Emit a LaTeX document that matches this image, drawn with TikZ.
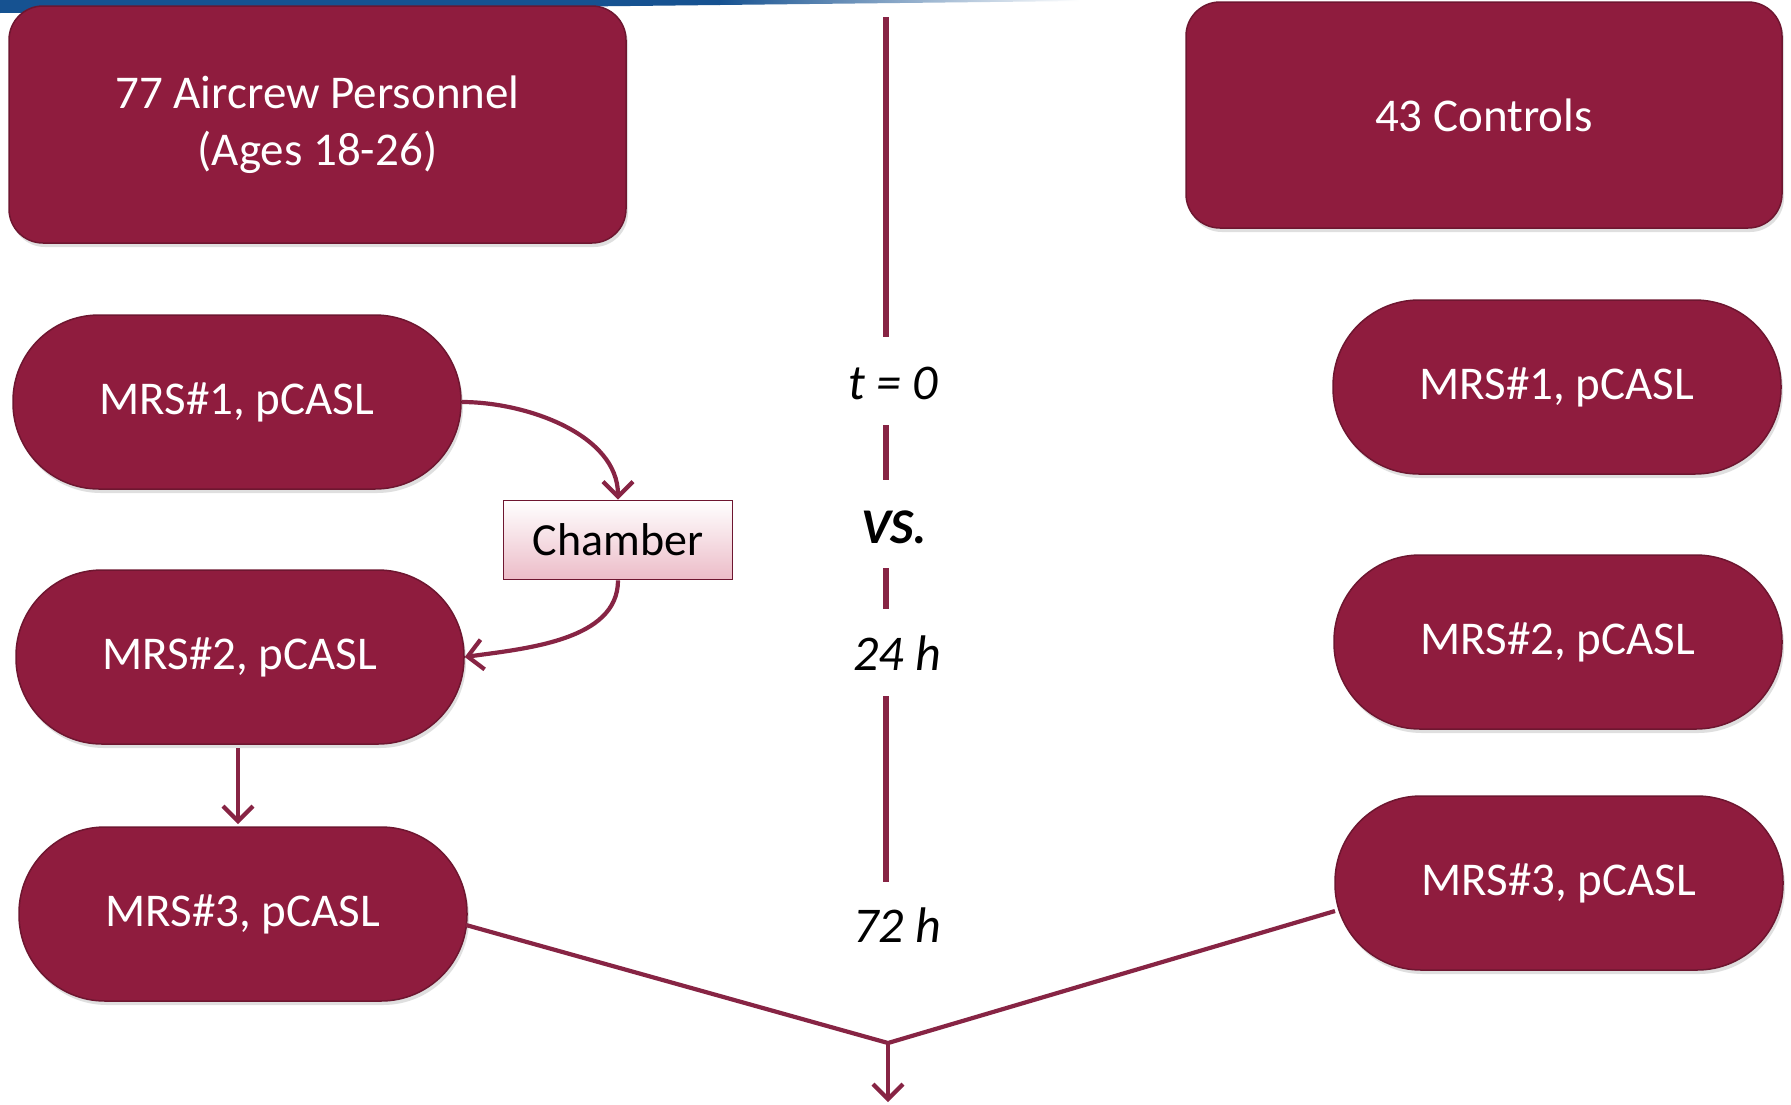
\documentclass[tikz,border=0pt]{standalone}
\usepackage{fontspec}
\setmainfont{Carlito}
\usetikzlibrary{arrows.meta,shadows}
\definecolor{boxred}{RGB}{143,28,62}
\definecolor{boxedge}{RGB}{110,22,48}
\definecolor{arrred}{RGB}{135,36,68}
\definecolor{chpink}{RGB}{236,188,200}
\definecolor{topblue}{RGB}{22,82,145}
\tikzset{
  bigbox/.style={draw=boxedge, line width=1.5pt, fill=boxred, rounded corners=34pt,
     text=white, font=\fontsize{47}{57}\selectfont, align=center, inner sep=0pt,
     drop shadow={opacity=0.25, shadow xshift=2pt, shadow yshift=-4pt}},
  pill/.style={draw=boxedge, line width=1.5pt, fill=boxred, rounded corners=86pt,
     minimum width=448pt, minimum height=174pt, text=white,
     font=\fontsize{47}{57}\selectfont, inner sep=0pt,
     drop shadow={opacity=0.25, shadow xshift=2pt, shadow yshift=-4pt}},
  chamberbox/.style={draw=boxedge, line width=1.8pt, top color=white, bottom color=chpink,
     minimum width=229pt, minimum height=79pt, font=\fontsize{46}{55}\selectfont, inner sep=0pt},
  tlabel/.style={font=\fontsize{50}{60}\selectfont\itshape, inner sep=0pt},
  tline/.style={draw=arrred, line width=6pt},
  conn/.style={draw=arrred, line width=4.2pt, -{Straight Barb[length=15pt,width=30pt,line width=4.2pt]}},
  plainconn/.style={draw=arrred, line width=4.2pt}
}
\begin{document}
\begin{tikzpicture}[x=1pt,y=-1pt]
\useasboundingbox (0,0) rectangle (1791,1104);
\fill[white] (0,0) rectangle (1791,1104);
% top blue band
\fill[topblue] (0,0) -- (720,0) -- (720,5) -- (0,13) -- cycle;
\shade[left color=topblue, right color=white]
  (719,0) -- (1080,0) -- (1080,1) -- (719,5) -- cycle;

% group boxes
\node[bigbox, minimum width=617pt, minimum height=237pt] (air) at (317.5,124.5)
  {77 Aircrew Personnel\\(Ages 18-26)};
\node[bigbox, minimum width=596pt, minimum height=226pt] (ctl) at (1484,115) {43 Controls};

% left pills
\node[pill] (m1L) at (237,402) {MRS\#1, pCASL};
\node[pill] (m2L) at (240,657) {MRS\#2, pCASL};
\node[pill] (m3L) at (243,914) {MRS\#3, pCASL};
% right pills
\node[pill] (m1R) at (1557,387) {MRS\#1, pCASL};
\node[pill] (m2R) at (1558,642) {MRS\#2, pCASL};
\node[pill] (m3R) at (1559,883) {MRS\#3, pCASL};

% chamber
\node[chamberbox] (ch) at (618,540) {Chamber};

% timeline
\node[tlabel] (t0) at (893,383) {t = 0};
\node[tlabel, font=\fontsize{50}{60}\selectfont\bfseries\itshape] (vs) at (894,527) {VS.};
\node[tlabel] (t24) at (897,653) {24 h};
\node[tlabel] (t72) at (897,925) {72 h};
\coordinate (s1a) at (886,17);  \coordinate (s1b) at (886,337);
\coordinate (s2a) at (886,425); \coordinate (s2b) at (886,480);
\coordinate (s3a) at (886,568); \coordinate (s3b) at (886,609);
\coordinate (s4a) at (886,696); \coordinate (s4b) at (886,882);
\draw[tline] (s1a) -- (s1b);
\draw[tline] (s2a) -- (s2b);
\draw[tline] (s3a) -- (s3b);
\draw[tline] (s4a) -- (s4b);

% chamber arrows
\draw[conn] (m1L.east) to[out=0,in=90,looseness=0.9] (ch.north);
\draw[conn] (ch.south) to[out=-90,in=8,looseness=0.9] (m2L.east);
% vertical arrow
\coordinate (v2) at (238,748);
\coordinate (v3) at (238,824);
\draw[conn] (v2) -- (v3);

% merge
\coordinate (jn) at (888,1043);
\coordinate (tipb) at (888,1102);
\coordinate (l3) at (466,925);
\coordinate (r3) at (1335,911);
\draw[plainconn] (l3) -- (jn) -- (r3);
\draw[conn] (jn) -- (tipb);
\end{tikzpicture}
\end{document}
